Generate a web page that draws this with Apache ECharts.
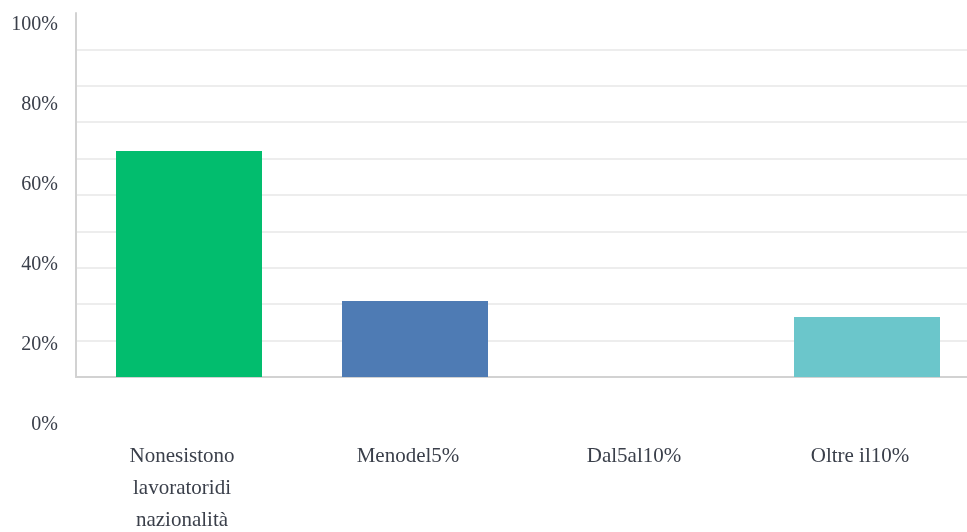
<!DOCTYPE html>
<html>
<head>
<meta charset="utf-8">
<script src="https://cdn.jsdelivr.net/npm/echarts@6/dist/echarts.min.js"></script>
<style>
  html, body { margin: 0; padding: 0; background: #fff; }
  #chart { width: 967px; height: 532px; }
</style>
</head>
<body>
<div id="chart"></div>
<script>
// dati
const categories = ['Nonesistono\nlavoratoridi\nnazionalità', 'Menodel5%', 'Dal5al10%', 'Oltre il10%'];
const values = [62.1, 20.9, 0, 16.5];
const barColors = ['#02bd6e', '#4e7bb4', '#4e7bb4', '#6bc6cb'];
const yTickLabels = ['0%', '20%', '40%', '60%', '80%', '100%'];

const textColor = '#3a3f4a';
const fontFamily = '"Liberation Serif", "DejaVu Serif", serif';

// linee di griglia ogni 10%, l'ultima (in alto) invisibile
const gridColors = [];
for (let i = 0; i < 10; i++) gridColors.push('#ededed');
gridColors.push('rgba(0,0,0,0)');

const chart = echarts.init(document.getElementById('chart'));

const option = {
  backgroundColor: '#fff',
  animation: false,
  grid: [
    { left: 76, width: 904, top: 13, height: 364, containLabel: false, outerBoundsMode: 'none' },
    { left: 76, width: 891, top: 25, height: 400, containLabel: false, outerBoundsMode: 'none' }
  ],
  xAxis: [
    {
      type: 'category',
      gridIndex: 0,
      data: categories,
      axisLine: { lineStyle: { color: '#d2d2d2', width: 2 } },
      axisTick: { show: false },
      axisLabel: {
        color: textColor,
        fontFamily: fontFamily,
        fontSize: 21,
        lineHeight: 32,
        margin: 63,
        padding: [0, 14, 0, 0],
        interval: 0
      }
    },
    {
      type: 'value',
      gridIndex: 1,
      show: false,
      min: 0,
      max: 1
    }
  ],
  yAxis: [
    {
      type: 'value',
      gridIndex: 0,
      min: 0,
      max: 100,
      interval: 10,
      axisLine: { show: true, lineStyle: { color: '#d2d2d2', width: 2 } },
      axisTick: { show: false },
      axisLabel: { show: false },
      splitLine: { lineStyle: { color: gridColors, width: 2 } }
    },
    {
      type: 'value',
      gridIndex: 1,
      min: 0,
      max: 100,
      interval: 20,
      axisLine: { show: false },
      axisTick: { show: false },
      splitLine: { show: false },
      axisLabel: {
        color: textColor,
        fontFamily: fontFamily,
        fontSize: 20,
        margin: 18,
        formatter: function (v) { return yTickLabels[v / 20]; }
      }
    }
  ],
  series: [
    {
      type: 'bar',
      xAxisIndex: 0,
      yAxisIndex: 0,
      barWidth: 146,
      data: values.map((v, i) => ({ value: v, itemStyle: { color: barColors[i] } }))
    }
  ]
};

chart.setOption(option);
</script>
</body>
</html>
